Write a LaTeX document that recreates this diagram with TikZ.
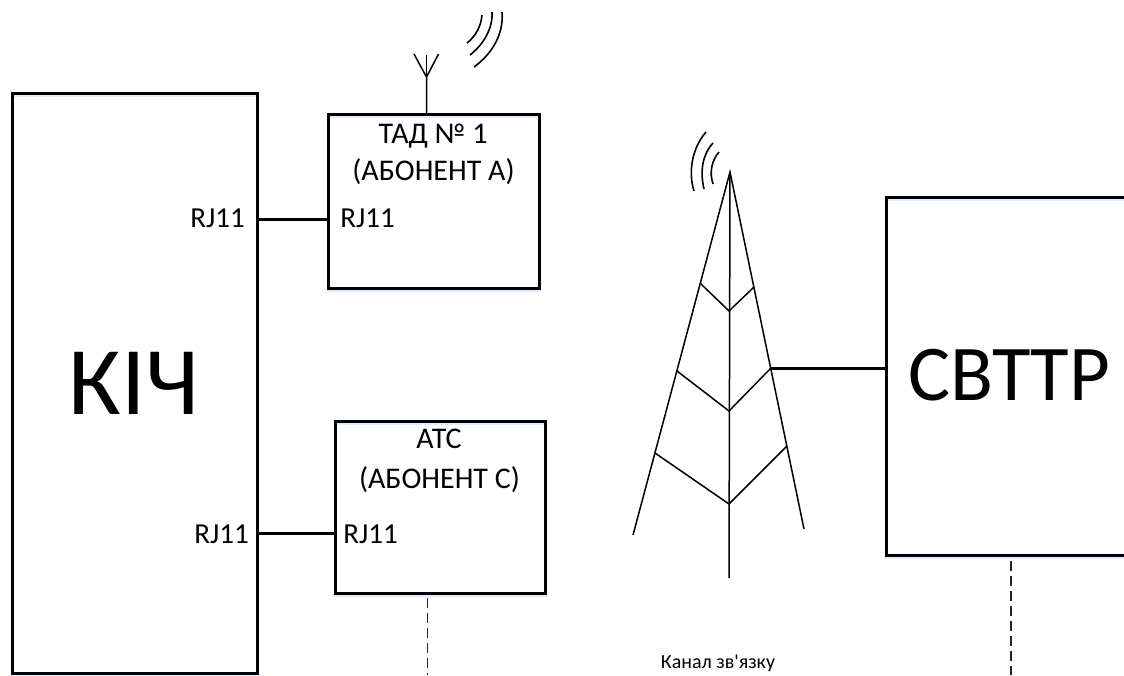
\documentclass[tikz,border=0pt]{standalone}
\usepackage{fontspec}
\setmainfont{Carlito}
\newfontfamily\plainfont{Carlito}
\usetikzlibrary{positioning,calc}
\tikzset{
  every node/.style={font=\fontsize{29}{37}\selectfont},
  % --- nodes
  block/.style = {draw=black, fill=white, line width=3pt, inner sep=0pt, outer sep=0pt, anchor=north west},
  lbl/.style   = {inner sep=0pt, align=center, anchor=base},
  hdr/.style   = {lbl, font=\fontsize{30}{37}\selectfont},
  % --- edges
  wire/.style  = {line width=3pt, draw=black},
  thin/.style  = {line width=1.5pt, draw=black},
  wave/.style  = {line width=1.6pt, draw=black},
  chan/.style  = {line width=1.2pt, draw=black!85, dash pattern=on 10pt off 5pt},
  glow/.style  = {line width=2pt, draw=blue!50!cyan!14},
}
\begin{document}
\begin{tikzpicture}[x=1pt,y=-1pt]
  \useasboundingbox (0,0) rectangle (1124,675);
  % blocks
  \node[block, minimum width=245pt, minimum height=580pt] (kich) at (12,93) {};
  \node[block, minimum width=211pt, minimum height=174pt] (tad) at (328,114) {};
  \node[block, minimum width=210pt, minimum height=172pt] (ats) at (335,421) {};
  \node[block, minimum width=260pt, minimum height=358pt] (svttr) at (886,197) {};
  \foreach \b in {kich,tad,ats,svttr} {
    \draw[glow] ($(\b.north west)+(1.5,2.5)$) -- ($(\b.north east)+(-1.5,2.5)$);
    \draw[glow] ($(\b.south west)+(-1.5,2.5)$) -- ($(\b.south east)+(1.5,2.5)$);
  }
  % labels
  \node[lbl, font=\fontsize{97}{100}\selectfont] (kichtxt) at (134,414) {КІЧ};
  \node[lbl, font=\fontsize{79}{90}\selectfont] (svttrtxt) at (1009.5,400) {СВТТР};
  \node[hdr] (tadtxta) at (433,143) {ТАД № 1};
  \node[hdr] (tadtxtb) at (433.5,180) {(АБОНЕНТ А)};
  \node[hdr] (atstxta) at (439,448) {АТС};
  \node[hdr] (atstxtb) at (439.5,488) {(АБОНЕНТ С)};
  \node[lbl] (rja) at (217.5,227) {RJ11};
  \node[lbl] (rjb) at (367.5,227) {RJ11};
  \node[lbl] (rjc) at (221.5,543) {RJ11};
  \node[lbl] (rjd) at (370.5,543) {RJ11};
  \node[lbl, font=\plainfont\fontsize{20}{24}\selectfont] (kanal) at (718,668) {Канал зв'язку};
  % links
  \coordinate (wa) at (0,219);
  \coordinate (wb) at (0,533);
  \draw[wire] (kich.east |- wa) -- (tad.west |- wa);
  \draw[wire] (kich.east |- wb) -- (ats.west |- wb);
  % subscriber antenna
  \coordinate (ant) at (426.5,77);
  \coordinate (anta) at (414,54);
  \coordinate (antb) at (426.5,55);
  \coordinate (antc) at (438.5,54);
  \draw[thin] (tad.north -| ant) -- (ant) -- (anta);
  \draw[thin] (ant) -- (antb);
  \draw[thin] (ant) -- (antc);
  \draw[wave] (467,43) .. controls (476,36) and (481,26) .. (482,15);
  \draw[wave] (470,55) .. controls (484,44) and (493,28) .. (492,12);
  \draw[wave] (474,67) .. controls (492,54) and (504,34) .. (502,12);
  % tower
  \coordinate (top) at (730,172);
  \coordinate (foot) at (729,578);
  \coordinate (legl) at (633,535);
  \coordinate (legr) at (804,529);
  \coordinate (la) at (700,283);
  \coordinate (ma) at (729,311);
  \coordinate (ra) at (754,287);
  \coordinate (lb) at (677,371);
  \coordinate (mb) at (729,411);
  \coordinate (rb) at (771,368);
  \coordinate (lc) at (655,453);
  \coordinate (mc) at (729,504);
  \coordinate (rc) at (787,446);
  \draw[thin] (top) -- (foot);
  \draw[thin] (legl) -- (top) -- (legr);
  \draw[thin] (la) -- (ma) -- (ra);
  \draw[thin] (lb) -- (mb) -- (rb);
  \draw[thin] (lc) -- (mc) -- (rc);
  \draw[wave] (719,152) .. controls (712,160) and (709,172) .. (713,184);
  \draw[wave] (713,143) .. controls (702,155) and (700,172) .. (704,189);
  \draw[wave] (706,132) .. controls (692,148) and (688,172) .. (694,191);
  \draw[wire] (rb) -- (svttr.west |- rb);
  % channel
  \coordinate (cha) at (427.5,675);
  \coordinate (chb) at (1011,675);
  \draw[chan] (ats.south -| cha) ++(0,5) -- (cha);
  \draw[chan] (svttr.south -| chb) ++(0,6) -- (chb);
\end{tikzpicture}
\end{document}
